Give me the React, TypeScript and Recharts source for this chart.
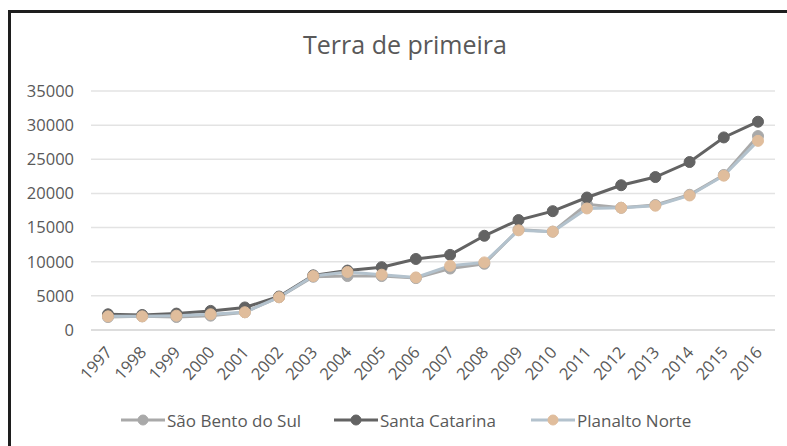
import React from "react";
import { LineChart, Line, XAxis, YAxis, CartesianGrid } from "recharts";

const years = ["1997","1998","1999","2000","2001","2002","2003","2004","2005","2006","2007","2008","2009","2010","2011","2012","2013","2014","2015","2016"];
const saoBento = [1900, 2000, 1900, 2100, 2600, 4800, 7800, 7900, 7900, 7600, 9000, 9700, 14700, 14400, 18400, 17900, 18300, 19800, 22700, 28400];
const santaCatarina = [2300, 2200, 2400, 2800, 3300, 4900, 8000, 8700, 9200, 10400, 11000, 13800, 16100, 17400, 19400, 21200, 22400, 24600, 28200, 30500];
const planaltoNorte = [2000, 2000, 2100, 2300, 2600, 4800, 7900, 8500, 8100, 7700, 9400, 9900, 14600, 14400, 17800, 17900, 18200, 19700, 22600, 27700];
const yTicks = [0, 5000, 10000, 15000, 20000, 25000, 30000, 35000];
const seriesNames = ["São Bento do Sul", "Santa Catarina", "Planalto Norte"];

const data = years.map((y, i) => ({
  year: y,
  sb: saoBento[i],
  sc: santaCatarina[i],
  pn: planaltoNorte[i],
}));

const FONT = "'Open Sans', 'DejaVu Sans', sans-serif";
const TXT = "#595959";

const C_SB = "#a9a9a9";
const C_SC = "#636363";
const C_PN_LINE = "#b3c2cd";
const C_PN_DOT = "#e0bd9c";

const XTick = (props: any) => {
  const { x, y, payload } = props;
  return (
    <g transform={`translate(${x + 5},${y})`}>
      <text
        x={0}
        y={0}
        textAnchor="end"
        fill={TXT}
        fontSize={16.5}
        fontFamily={FONT}
        transform="rotate(-48)"
      >
        {payload.value}
      </text>
    </g>
  );
};

const LegendItem = ({ left, name, line, dot }: { left: number; name: string; line: string; dot: string }) => (
  <div style={{ position: "absolute", left, top: 409, height: 22, display: "flex", alignItems: "center" }}>
    <svg width={45} height={22} style={{ display: "block" }}>
      <line x1={0} y1={11} x2={44} y2={11} stroke={line} strokeWidth={3} />
      <circle cx={22} cy={11} r={5} fill={dot} stroke={dot} />
    </svg>
    <span style={{ fontFamily: FONT, fontSize: 17, color: TXT, marginLeft: 1, whiteSpace: "nowrap" }}>{name}</span>
  </div>
);

export default function App() {
  return (
    <div style={{ position: "absolute", left: 0, top: 0, width: 787, height: 446, overflow: "hidden", background: "#fff" }}>
      <div
        style={{
          position: "absolute",
          left: 8,
          top: 10,
          width: 779,
          height: 436,
          borderLeft: "3px solid #1e1e1e",
          borderTop: "3px solid #1e1e1e",
          boxSizing: "border-box",
        }}
      />
      <div
        style={{
          position: "absolute",
          left: 0,
          width: 810,
          top: 27,
          textAlign: "center",
          fontFamily: FONT,
          fontSize: 25,
          color: TXT,
        }}
      >
        Terra de primeira
      </div>
      <div style={{ position: "absolute", left: 0, top: 0 }}>
        <LineChart width={787} height={446} data={data} margin={{ top: 91, right: 12, left: 31, bottom: 56 }}>
          <CartesianGrid vertical={false} stroke="#e3e3e3" strokeWidth={1.5} />
          <XAxis
            dataKey="year"
            height={60}
            padding={{ left: 17, right: 17 }}
            axisLine={{ stroke: "#d9d9d9", strokeWidth: 1.5 }}
            tickLine={false}
            tickSize={0}
            tickMargin={23}
            interval={0}
            tick={<XTick />}
          />
          <YAxis
            width={60}
            domain={[0, 35000]}
            ticks={yTicks}
            interval={0}
            axisLine={false}
            tickLine={false}
            tickSize={6}
            tickMargin={11}
            tick={{ fill: TXT, fontSize: 16.5, fontFamily: FONT }}
          />
          <Line
            type="linear"
            dataKey="sb"
            name={seriesNames[0]}
            stroke={C_SB}
            strokeWidth={3}
            dot={{ r: 5.5, fill: C_SB, stroke: C_SB, strokeWidth: 1 }}
            isAnimationActive={false}
          />
          <Line
            type="linear"
            dataKey="sc"
            name={seriesNames[1]}
            stroke={C_SC}
            strokeWidth={3}
            dot={{ r: 5.5, fill: C_SC, stroke: C_SC, strokeWidth: 1 }}
            isAnimationActive={false}
          />
          <Line
            type="linear"
            dataKey="pn"
            name={seriesNames[2]}
            stroke={C_PN_LINE}
            strokeWidth={3}
            dot={{ r: 5.5, fill: C_PN_DOT, stroke: C_PN_DOT, strokeWidth: 1 }}
            isAnimationActive={false}
          />
        </LineChart>
      </div>
      <LegendItem left={121} name={seriesNames[0]} line={C_SB} dot={C_SB} />
      <LegendItem left={334} name={seriesNames[1]} line={C_SC} dot={C_SC} />
      <LegendItem left={531} name={seriesNames[2]} line={C_PN_LINE} dot={C_PN_DOT} />
    </div>
  );
}
